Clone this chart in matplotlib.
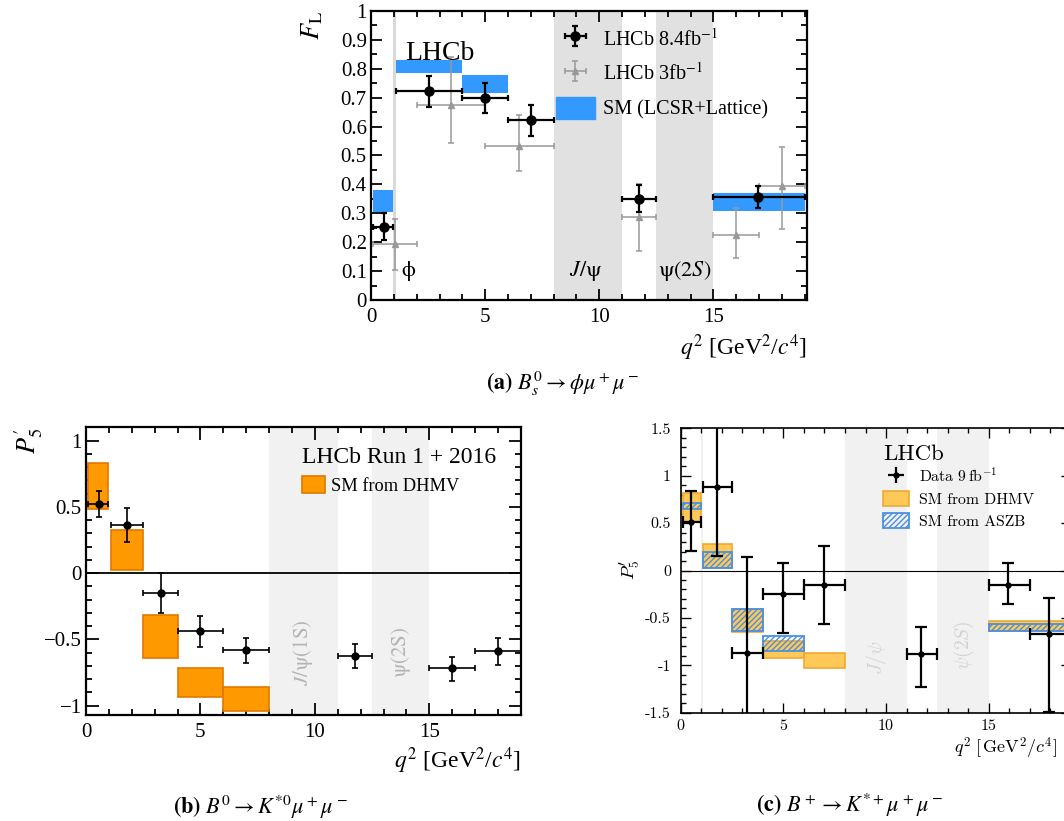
import matplotlib
matplotlib.use('Agg')
import matplotlib.pyplot as plt
from matplotlib.patches import Patch
from matplotlib.ticker import MultipleLocator, FuncFormatter
from matplotlib.font_manager import FontProperties

plt.rcParams['font.family'] = ['Liberation Serif', 'DejaVu Serif']
plt.rcParams['mathtext.fontset'] = 'stix'
plt.rcParams['hatch.linewidth'] = 1.0

# (a) Bs0 -> phi mu mu, F_L
fl_lo = [0.1, 1.1, 4.0, 6.0, 11.0, 15.0]
fl_hi = [0.98, 4.0, 6.0, 8.0, 12.5, 19.0]
fl_x = [0.55, 2.52, 5.0, 7.0, 11.75, 16.96]
fl_val = [0.253, 0.722, 0.699, 0.622, 0.351, 0.357]
fl_up = [0.047, 0.052, 0.052, 0.053, 0.048, 0.036]
fl_dn = [0.047, 0.055, 0.053, 0.053, 0.047, 0.039]

fl3_lo = [0.1, 2.0, 5.0, 11.0, 15.0, 17.0]
fl3_hi = [2.0, 5.0, 8.0, 12.5, 17.0, 19.0]
fl3_x = [1.05, 3.5, 6.5, 11.75, 16.0, 18.0]
fl3_val = [0.195, 0.675, 0.534, 0.286, 0.225, 0.395]
fl3_up = [0.085, 0.165, 0.106, 0.117, 0.095, 0.135]
fl3_dn = [0.092, 0.132, 0.089, 0.116, 0.080, 0.151]

flsm_lo = [0.1, 1.1, 4.0, 15.0]
flsm_hi = [0.98, 4.0, 6.0, 19.0]
flsm_min = [0.305, 0.787, 0.716, 0.309]
flsm_max = [0.382, 0.832, 0.777, 0.369]

# (b) B0 -> K*0 mu mu, P5'
p5b_lo = [0.1, 1.1, 2.5, 4.0, 6.0, 11.0, 15.0, 17.0]
p5b_hi = [0.98, 2.5, 4.0, 6.0, 8.0, 12.5, 17.0, 19.0]
p5b_x = [0.55, 1.8, 3.26, 5.0, 7.0, 11.74, 16.0, 17.98]
p5b_val = [0.521, 0.364, -0.148, -0.438, -0.580, -0.621, -0.712, -0.590]
p5b_up = [0.100, 0.125, 0.148, 0.115, 0.094, 0.089, 0.078, 0.104]
p5b_dn = [0.100, 0.125, 0.152, 0.119, 0.099, 0.091, 0.102, 0.102]

dhmvb_lo = [0.1, 1.1, 2.5, 4.0, 6.0]
dhmvb_hi = [0.98, 2.5, 4.0, 6.0, 8.0]
dhmvb_min = [0.483, 0.025, -0.636, -0.936, -1.04]
dhmvb_max = [0.832, 0.328, -0.316, -0.718, -0.86]

# (c) B+ -> K*+ mu mu, P5'
p5c_lo = [0.1, 1.1, 2.5, 4.0, 6.0, 11.0, 15.0, 17.0]
p5c_hi = [0.98, 2.5, 4.0, 6.0, 8.0, 12.5, 17.0, 19.0]
p5c_x = [0.52, 1.79, 3.21, 4.97, 6.98, 11.7, 15.96, 17.94]
p5c_val = [0.51, 0.883, -0.872, -0.25, -0.148, -0.883, -0.148, -0.672]
p5c_up = [0.324, 0.75, 1.013, 0.334, 0.408, 0.285, 0.222, 0.38]
p5c_dn = [0.30, 0.725, 1.0, 0.408, 0.418, 0.341, 0.207, 0.816]

dhmvc_lo = [0.1, 1.1, 2.5, 4.0, 6.0, 15.0]
dhmvc_hi = [0.98, 2.5, 4.0, 6.0, 8.0, 19.0]
dhmvc_min = [0.517, 0.03, -0.644, -0.922, -1.027, -0.633]
dhmvc_max = [0.816, 0.28, -0.405, -0.74, -0.869, -0.528]

aszb_lo = [0.1, 1.1, 2.5, 4.0, 15.0]
aszb_hi = [0.98, 2.5, 4.0, 6.0, 19.0]
aszb_min = [0.651, 0.025, -0.633, -0.845, -0.633]
aszb_max = [0.714, 0.2, -0.405, -0.693, -0.56]


def xerrs(x, lo, hi):
    return [[a - b for a, b in zip(x, lo)], [b - a for a, b in zip(x, hi)]]


def boxes(ax, lo, hi, ymin, ymax, **kw):
    return ax.bar(lo, [b - a for a, b in zip(ymin, ymax)], width=[b - a for a, b in zip(lo, hi)],
                  bottom=ymin, align='edge', **kw)


def frame(ax, lw, majlen, minlen):
    for s in ax.spines.values():
        s.set_linewidth(lw)
    ax.tick_params(which='both', direction='in', top=True, right=True, width=lw * 0.8)
    ax.tick_params(which='major', length=majlen)
    ax.tick_params(which='minor', length=minlen)


fmt = FuncFormatter(lambda v, p: ('%g' % round(v, 3)).replace('-', '\u2212'))

fig = plt.figure(figsize=(10.64, 8.21), dpi=100)

# ---------------- (a)
ax = fig.add_axes([0.3487, 0.6346, 0.4098, 0.3520])
ax.axvspan(0.98, 1.1, color='#d9d9d9', lw=0)
ax.axvspan(8, 11, color='#e1e1e1', lw=0)
ax.axvspan(12.5, 15, color='#e1e1e1', lw=0)
boxes(ax, flsm_lo, flsm_hi, flsm_min, flsm_max, color='#3399ff', lw=0, zorder=2)
sm_a = Patch(color='#3399ff')
e3 = ax.errorbar(fl3_x, fl3_val, yerr=[fl3_dn, fl3_up], xerr=xerrs(fl3_x, fl3_lo, fl3_hi),
                 fmt='^', color='#999999', ms=5, lw=1.1, capsize=2, capthick=1.1, zorder=3)
e8 = ax.errorbar(fl_x, fl_val, yerr=[fl_dn, fl_up], xerr=xerrs(fl_x, fl_lo, fl_hi),
                 fmt='o', color='black', ms=6.5, lw=1.6, capsize=2.5, capthick=1.6, zorder=4)
ax.set_xlim(0, 19.1)
ax.set_ylim(0, 1)
ax.xaxis.set_major_locator(MultipleLocator(5))
ax.xaxis.set_minor_locator(MultipleLocator(1))
ax.yaxis.set_major_locator(MultipleLocator(0.1))
ax.yaxis.set_minor_locator(MultipleLocator(0.05))
ax.xaxis.set_major_formatter(fmt)
ax.yaxis.set_major_formatter(fmt)
frame(ax, 1.6, 8, 4)
ax.tick_params(axis='both', labelsize=15)
ax.tick_params(axis='x', pad=6)
ax.tick_params(axis='y', pad=3)
ax.text(1.48, 0.852, 'LHCb', fontsize=20, va='center', ha='left')
ax.text(1.3, 0.1, r'$\mathrm{\phi}$', fontsize=16, va='center')
ax.text(9.4, 0.1, r'$J/\mathrm{\psi}$', fontsize=16, va='center', ha='center')
ax.text(13.75, 0.1, r'$\mathrm{\psi}(2S)$', fontsize=16, va='center', ha='center')
ax.legend([e8, e3, sm_a], [r'LHCb 8.4fb$^{-1}$', r'LHCb 3fb$^{-1}$', 'SM (LCSR+Lattice)'],
          loc='upper left', bbox_to_anchor=(0.425, 0.943), frameon=False, fontsize=14.5,
          handlelength=1.9, handleheight=1.3, labelspacing=0.6, handletextpad=0.4,
          borderpad=0, borderaxespad=0)
ax.text(1.0, -0.165, r'$q^2$ [GeV$^2$/$c^4$]', transform=ax.transAxes, fontsize=17,
        ha='right', va='center')
ax.text(-0.135, 1.0, r'$F_{\rm L}$', transform=ax.transAxes, fontsize=19, rotation=90,
        ha='center', va='top')
fig.text(0.529, 1 - 384 / 821, r'$\mathbf{(a)}$ $B_s^0 \rightarrow \phi\mu^+\mu^-$',
         fontsize=16, ha='center', va='center')

# ---------------- (b)
ax = fig.add_axes([0.0808, 0.1291, 0.4088, 0.3502])
ax.axvspan(8, 11, color='#f1f1f1', lw=0)
ax.axvspan(12.5, 15, color='#f1f1f1', lw=0)
boxes(ax, dhmvb_lo, dhmvb_hi, dhmvb_min, dhmvb_max, facecolor='#ff9900', edgecolor='#e07800',
      lw=1.2, zorder=2)
ax.axhline(0, color='black', lw=1.3, zorder=2)
ax.errorbar(p5b_x, p5b_val, yerr=[p5b_dn, p5b_up], xerr=xerrs(p5b_x, p5b_lo, p5b_hi),
            fmt='o', color='black', ms=5, lw=1.2, capsize=2, capthick=1.2, zorder=4)
ax.set_xlim(0, 19)
ax.set_ylim(-1.07, 1.1)
ax.xaxis.set_major_locator(MultipleLocator(5))
ax.xaxis.set_minor_locator(MultipleLocator(1))
ax.yaxis.set_major_locator(MultipleLocator(0.5))
ax.yaxis.set_minor_locator(MultipleLocator(0.1))
ax.xaxis.set_major_formatter(fmt)
ax.yaxis.set_major_formatter(fmt)
frame(ax, 1.6, 9, 4.5)
ax.tick_params(axis='both', labelsize=15)
ax.tick_params(axis='x', pad=6)
ax.tick_params(axis='y', pad=3)
ax.text(9.42, 0.87, 'LHCb Run 1 + 2016', fontsize=17, va='center', ha='left')
ax.legend([Patch(facecolor='#ff9900', edgecolor='#e07800', lw=1.2)], ['SM from DHMV'],
          loc='upper left', bbox_to_anchor=(0.497, 0.833), frameon=False, fontsize=13.2,
          handlelength=1.25, handleheight=1.1, handletextpad=0.3, borderpad=0, borderaxespad=0)
ax.text(9.5, -0.6, r'$J/\mathrm{\psi}(1\mathrm{S})$', fontsize=15, rotation=90, color='#b4b4b4',
        ha='center', va='center')
ax.text(13.75, -0.6, r'$\mathrm{\psi}(2\mathrm{S})$', fontsize=15, rotation=90, color='#b4b4b4',
        ha='center', va='center')
ax.text(1.0, -0.16, r'$q^2$ [GeV$^2$/$c^4$]', transform=ax.transAxes, fontsize=17,
        ha='right', va='center')
ax.text(-0.131, 1.0, r"$P_5'$", transform=ax.transAxes, fontsize=19, rotation=90,
        ha='center', va='top')
fig.text(0.245, 1 - 807 / 821, r'$\mathbf{(b)}$ $B^0 \rightarrow K^{*0}\mu^+\mu^-$',
         fontsize=16, ha='center', va='center')

# ---------------- (c)
cm = dict(fontfamily='cmr10', math_fontfamily='cm')
ax = fig.add_axes([0.6398, 0.1319, 0.3666, 0.3464])
ax.axvspan(0.98, 1.1, color='#f1f1f1', lw=0)
ax.axvspan(8, 11, color='#f1f1f1', lw=0)
ax.axvspan(12.5, 15, color='#f1f1f1', lw=0)
boxes(ax, dhmvc_lo, dhmvc_hi, dhmvc_min, dhmvc_max, facecolor='#ffc857', edgecolor='#f0a830',
      lw=1.2, zorder=2)
boxes(ax, aszb_lo, aszb_hi, aszb_min, aszb_max, facecolor='none', edgecolor='#4a90e2',
      hatch='//////', lw=1.3, zorder=3)
ax.axhline(0, color='black', lw=0.8, zorder=2)
ec = ax.errorbar(p5c_x, p5c_val, yerr=[p5c_dn, p5c_up], xerr=xerrs(p5c_x, p5c_lo, p5c_hi),
                 fmt='o', color='black', ms=3.5, lw=1.6, capsize=4, capthick=1.6, zorder=4)
ax.set_xlim(0, 19)
ax.set_ylim(-1.5, 1.5)
ax.set_xticks([0, 5, 10, 15])
ax.set_xticklabels(['0', '5', '10', '15'], fontfamily='cmr10', fontsize=11.5)
ax.set_yticks([-1.5, -1, -0.5, 0, 0.5, 1, 1.5])
ax.set_yticklabels(['-1.5', '-1', '-0.5', '0', '0.5', '1', '1.5'], fontfamily='cmr10',
                   fontsize=11.5)
ax.xaxis.set_minor_locator(MultipleLocator(1))
ax.yaxis.set_minor_locator(MultipleLocator(0.1))
frame(ax, 1.2, 7, 3.5)
ax.tick_params(axis='x', pad=5)
ax.tick_params(axis='y', pad=7)
ax.text(9.85, 1.23, 'LHCb', fontsize=16.5, va='center', ha='left', **cm)
cm_prop = FontProperties(family='cmr10', size=11.3, math_fontfamily='cm')
ec_leg = ax.errorbar([], [], yerr=[], xerr=[], fmt='o', color='black', ms=3.5, lw=1.6)
ax.legend([ec_leg, Patch(facecolor='#ffc857', edgecolor='#f0a830', lw=1.2),
           Patch(facecolor='none', edgecolor='#4a90e2', hatch='//////', lw=1.3)],
          [r'Data $9\,\mathrm{fb}^{-1}$', 'SM from DHMV', 'SM from ASZB'],
          loc='upper left', bbox_to_anchor=(0.519, 0.866), frameon=False, prop=cm_prop,
          handlelength=1.65, handleheight=1.1, labelspacing=0.4, handletextpad=0.6,
          borderpad=0, borderaxespad=0)
ax.text(9.55, -0.915, r'$J/\psi$', fontsize=14, rotation=90, color='#d2d2d2',
        ha='center', va='center', math_fontfamily='cm')
ax.text(13.77, -0.79, r'$\psi(2S)$', fontsize=14, rotation=90, color='#d2d2d2',
        ha='center', va='center', math_fontfamily='cm')
ax.text(0.964, -0.124, r'$q^2\;[\,\mathrm{GeV}^2/c^4]$', transform=ax.transAxes, fontsize=13,
        ha='right', va='center', math_fontfamily='cm')
ax.text(-0.13, 0.5, r"$P_5'$", transform=ax.transAxes, fontsize=13.5, rotation=90,
        ha='center', va='center', math_fontfamily='cm')
fig.text(0.798, 1 - 805 / 821, r'$\mathbf{(c)}$ $B^+ \rightarrow K^{*+}\mu^+\mu^-$',
         fontsize=16, ha='center', va='center')

fig.savefig('out.png', dpi=100)
